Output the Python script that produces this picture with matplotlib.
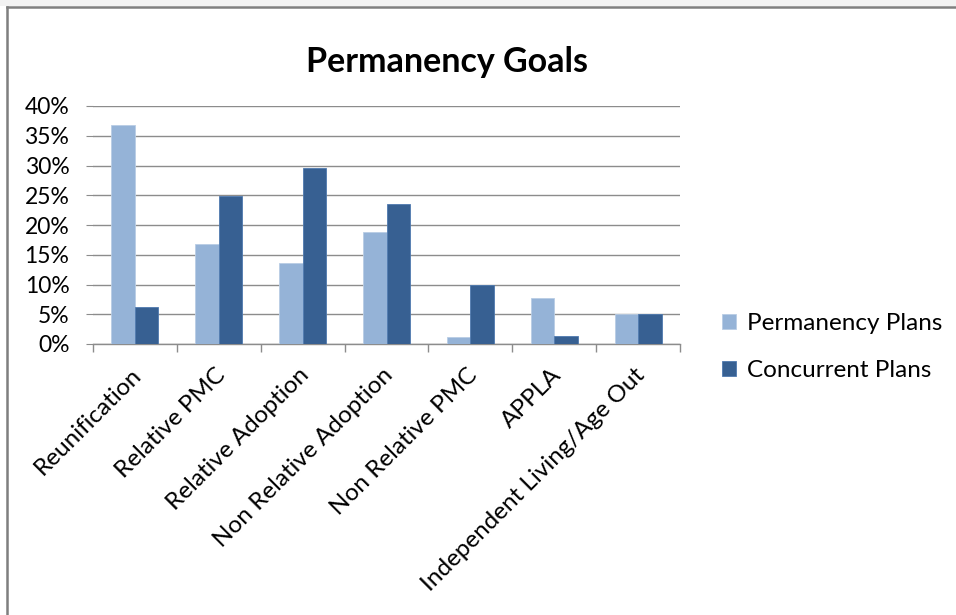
import matplotlib.pyplot as plt
from matplotlib.lines import Line2D
from matplotlib.patches import Rectangle
import numpy as np

# goal categories and share of plans in each (percent)
goals = ['Reunification', 'Relative PMC', 'Relative Adoption', 'Non Relative Adoption',
         'Non Relative PMC', 'APPLA', 'Independent Living/Age Out']
permanency_plans = [36.8, 16.8, 13.6, 18.8, 1.2, 7.7, 5.0]
concurrent_plans = [6.2, 24.8, 29.5, 23.5, 9.9, 1.3, 5.0]
y_ticks = [0, 5, 10, 15, 20, 25, 30, 35, 40]

plt.rcParams['font.family'] = ['Lato', 'DejaVu Sans']

fig = plt.figure(figsize=(9.56, 6.15), dpi=100)
ax = fig.add_axes([93 / 956, 1 - 344 / 615, 587 / 956, 238 / 615])

x = np.arange(len(goals))
w = 0.28
ax.bar(x - w / 2, permanency_plans, w, color='#95B3D7', edgecolor='#B9CDE5',
       linewidth=0.6, label='Permanency Plans', zorder=3)
ax.bar(x + w / 2, concurrent_plans, w, color='#376092', edgecolor='#4F7AB0',
       linewidth=0.6, label='Concurrent Plans', zorder=3)

ax.set_xlim(-0.5, len(goals) - 0.5)
ax.set_ylim(0, 40)
ax.set_yticks(y_ticks)
ax.set_yticklabels([f'{t}%' for t in y_ticks], fontsize=16.5)
ax.yaxis.grid(True, color='#8C8C8C', linewidth=1.0, zorder=0)
ax.tick_params(axis='y', length=5, color='#8C8C8C', pad=12)

# category labels sit between boundary ticks
ax.set_xticks(x)
ax.set_xticklabels([])
ax.tick_params(axis='x', which='major', length=0)
ax.set_xticks(np.arange(-0.5, len(goals)), minor=True)
ax.tick_params(axis='x', which='minor', length=6, color='#8C8C8C', width=1.0)
for xi, name in zip(x, goals):
    ax.annotate(name, xy=(xi, 0), xycoords=('data', 'axes fraction'),
                xytext=(2.5, -20), textcoords='offset points',
                rotation=45, rotation_mode='anchor', ha='right', va='center',
                fontsize=17.5)

for side in ['left', 'right', 'top']:
    ax.spines[side].set_visible(False)
ax.spines['bottom'].set_color('#8C8C8C')
ax.spines['bottom'].set_linewidth(1.0)

fig.text(447 / 956, 1 - 62 / 615, 'Permanency Goals', ha='center', va='center',
         fontsize=24.5, fontweight='bold')

leg = fig.legend(loc='center left', bbox_to_anchor=(700 / 956, 1 - 347 / 615),
                 frameon=False, fontsize=17.5, handlelength=0.6, handleheight=0.6,
                 labelspacing=1.08, handletextpad=0.45)

# chart frame along top and left edges
fig.patches.append(Rectangle((0, 1 - 6 / 615), 1, 6 / 615, transform=fig.transFigure,
                             facecolor='#F2F2F2', edgecolor='none'))
fig.lines.append(Line2D([7 / 956, 1], [1 - 7 / 615, 1 - 7 / 615],
                        transform=fig.transFigure, color='#7F7F7F', linewidth=1.8))
fig.lines.append(Line2D([7 / 956, 7 / 956], [0, 1 - 7 / 615],
                        transform=fig.transFigure, color='#7F7F7F', linewidth=1.8))

fig.savefig('out.png', dpi=100)
